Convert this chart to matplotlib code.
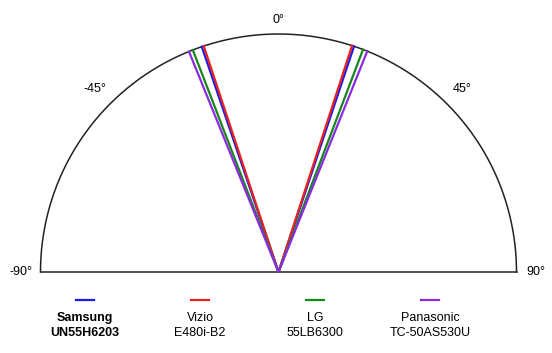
import numpy as np
import matplotlib
matplotlib.use('Agg')
import matplotlib.pyplot as plt

plt.rcParams['font.family'] = ['Liberation Sans', 'DejaVu Sans']

# viewing angle data (degrees from straight ahead)
tvs = ['Samsung', 'Vizio', 'LG', 'Panasonic']
models = ['UN55H6203', 'E480i-B2', '55LB6300', 'TC-50AS530U']
left_angle = [-18.8, -18.3, -21.1, -22.1]
right_angle = [18.5, 18.0, 20.8, 21.9]
colors = ['#1a1aeb', '#e8231f', '#16861a', '#8a2be2']
tick_angles = [-90, -45, 0, 45, 90]
tick_labels = ['-90°', '-45°', '0°', '45°', '90°']

W, H = 552, 353
fig = plt.figure(figsize=(W / 100, H / 100), dpi=100)
cx, cy, R = 278.5, 272, 238
ax = fig.add_axes([0, 0, 1, 1])
ax.set_xlim(-cx / R, (W - cx) / R)
ax.set_ylim(-(H - cy) / R, cy / R)
ax.axis('off')

# half-circle frame
t = np.radians(np.linspace(-90, 90, 400))
ax.plot(np.sin(t), np.cos(t), color='#222222', lw=1.1)
ax.plot([-1, 1], [0, 0], color='#222222', lw=1.1)

for i in range(len(tvs)):
    th = np.radians([left_angle[i], 0, right_angle[i]])
    r = np.array([1, 0, 1])
    ax.plot(r * np.sin(th), r * np.cos(th), color=colors[i], lw=1.6, solid_joinstyle='miter')

# angle labels
label_r = [1.08, 1.09, 1.06, 1.09, 1.08]
for a, lab, r in zip(tick_angles, tick_labels, label_r):
    th = np.radians(a)
    ax.text(r * np.sin(th), r * np.cos(th), lab, ha='center', va='center', fontsize=9)

# legend
xs = [85, 200, 315, 430]
for i in range(len(tvs)):
    x = (xs[i] - cx) / R
    ax.plot([x - 9 / R, x + 9 / R], [(cy - 300) / R] * 2, color=colors[i], lw=1.6)
    fw = 'bold' if i == 0 else 'normal'
    ax.text(x, (cy - 318) / R, tvs[i], ha='center', va='center', fontsize=9, fontweight=fw)
    ax.text(x, (cy - 333) / R, models[i], ha='center', va='center', fontsize=9, fontweight=fw)

fig.savefig('out.png', dpi=100)
